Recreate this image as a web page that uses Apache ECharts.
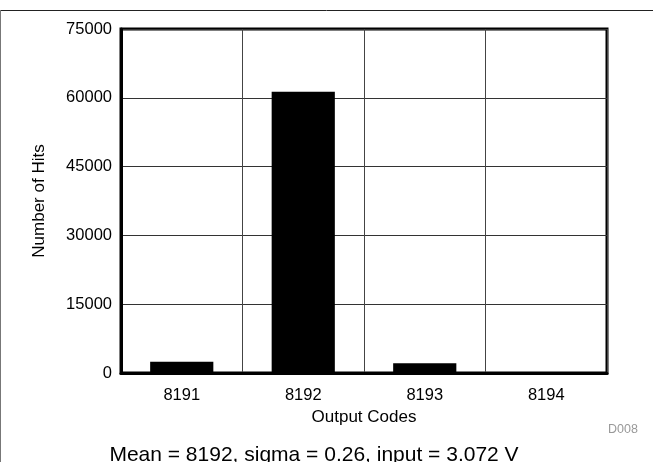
<!DOCTYPE html>
<html lang="en">
<head>
<meta charset="UTF-8">
<title>Output Codes Histogram</title>
<script src="https://cdn.jsdelivr.net/npm/echarts@6/dist/echarts.min.js"></script>
<style>
  html, body { margin: 0; padding: 0; background: #fff; }
</style>
</head>
<body>
<div id="chart" style="width: 653px; height: 462px;"></div>
<script>
    var codes = ['8191', '8192', '8193', '8194'];
    var hits = [2450, 61300, 2100, 150];
    var yTicks = [0, 15000, 30000, 45000, 60000, 75000];

    var font = 'Liberation Sans, Arial, Helvetica, sans-serif';
    var ch = echarts.init(document.getElementById('chart'));
    var option = {
        backgroundColor: '#fff',
        animation: false,
        grid: {
            left: 121, top: 29, right: 46, bottom: 89,
            show: true,
            borderColor: '#000',
            borderWidth: 3
        },
        title: [{
            text: 'Mean = 8192, sigma = 0.26, input = 3.072 V',
            left: 309, top: 440, textAlign: 'center',
            textStyle: { fontFamily: font, fontSize: 21, fontWeight: 'normal', color: '#000' }
        }, {
            text: 'D008',
            left: 603, top: 418,
            textStyle: { fontFamily: font, fontSize: 12.5, fontWeight: 'normal', color: '#999' }
        }],
        graphic: [
            { type: 'line', shape: { x1: 0, y1: 10.5, x2: 653, y2: 10.5 }, style: { stroke: '#222', lineWidth: 1 } },
            { type: 'line', shape: { x1: 0.5, y1: 10, x2: 0.5, y2: 462 }, style: { stroke: '#777', lineWidth: 1 } }
        ],
        xAxis: {
            type: 'category',
            data: codes,
            boundaryGap: true,
            name: 'Output Codes',
            nameLocation: 'middle',
            nameGap: 34,
            nameTextStyle: { fontFamily: font, fontSize: 17, color: '#000' },
            axisLine: { lineStyle: { color: '#000', width: 3 } },
            axisTick: { show: false },
            axisLabel: { fontFamily: font, fontSize: 16.5, color: '#000', margin: 14 },
            splitLine: { show: true, lineStyle: { color: '#444', width: 1 } }
        },
        yAxis: {
            type: 'value',
            min: yTicks[0],
            max: yTicks[yTicks.length - 1],
            interval: yTicks[1] - yTicks[0],
            name: 'Number of Hits',
            nameLocation: 'middle',
            nameGap: 73,
            nameTextStyle: { fontFamily: font, fontSize: 17, color: '#000' },
            axisLine: { show: true, lineStyle: { color: '#000', width: 3 } },
            axisTick: { show: false },
            axisLabel: {
                fontFamily: font, fontSize: 16.5, color: '#000', margin: 9,
                formatter: function (v) { return String(v); }
            },
            splitLine: { show: true, lineStyle: { color: '#333', width: 1 } }
        },
        series: [{
            type: 'bar',
            data: hits,
            barWidth: '52%',
            itemStyle: { color: '#000' }
        }]
    };
    ch.setOption(option);
</script>
</body>
</html>
